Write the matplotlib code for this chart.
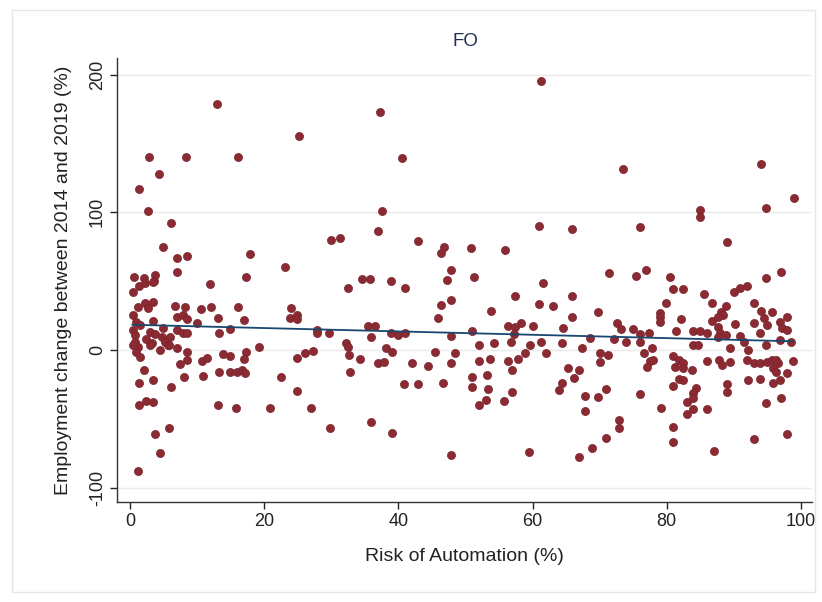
import matplotlib
matplotlib.use("Agg")
import matplotlib.pyplot as plt
from matplotlib.patches import Rectangle

title = "FO"
x_label = "Risk of Automation (%)"
y_label = "Employment change between 2014 and 2019 (%)"
x_ticks = [0, 20, 40, 60, 80, 100]
y_ticks = [-100, 0, 100, 200]

# Scatter points (risk %, employment change %)
risk = [
    61.3, 12.9, 37.3, 25.2, 2.8, 8.3, 16.0, 40.5, 94.1, 73.5, 4.2, 1.3, 99.0, 94.9, 2.7, 37.6,
    85.0, 85.0, 6.0, 60.9, 76.0, 65.9, 37.0, 30.0, 31.2, 42.9, 89.0, 4.85, 46.8, 55.9, 50.8, 46.3,
    6.9, 8.5, 17.9, 23.0, 47.8, 6.9, 71.4, 75.5, 76.9, 80.5, 94.9, 97.0, 0.6, 2.1, 3.7, 3.5,
    17.2, 47.3, 51.3, 34.6, 35.7, 38.9, 11.9, 61.6, 32.4, 41.0, 81.0, 82.5, 90.0, 91.0, 92.0,
    0.4, 1.3, 2.2, 3.4, 1.2, 2.2, 2.7, 3.4, 6.6, 8.2, 10.5, 12.1, 0.4, 6.9, 7.9, 8.5, 9.9, 13.0,
    3.4, 0.9, 1.4, 0.4, 0.7, 4.9, 6.9, 7.9, 8.5, 13.2, 14.9, 2.9, 3.7, 2.4, 3.2, 4.7, 5.9, 5.1,
    5.6, 0.7, 1.2, 0.4, 0.9, 2.9, 4.4, 5.7, 6.9, 1.4, 8.5, 8.5, 7.4, 10.7, 11.4, 13.8, 14.9,
    2.1, 1.3, 3.4, 6.0, 8.0, 10.9, 13.2, 14.9, 1.3, 2.4, 3.4, 13.0, 5.8, 3.7, 4.4, 1.1, 15.7,
    16.1, 24.0, 24.9, 23.8, 24.9, 17.0, 27.9, 27.9, 29.6, 32.2, 32.4, 32.6, 19.2, 17.2, 17.0,
    24.9, 26.0, 27.3, 15.9, 16.6, 17.1, 22.4, 32.8, 24.9, 20.9, 26.9, 29.8,
    46.3, 47.8, 45.9, 35.4, 36.5, 35.9, 38.9, 40.0, 40.9, 47.8, 50.9, 38.2, 39.1, 45.4, 48.4,
    34.2, 37.0, 37.9, 42.0, 44.4, 47.9, 51.0, 50.9, 40.8, 42.9, 46.6, 35.9, 39.0, 47.9,
    57.4, 53.8, 60.9, 63.0, 65.9, 65.9, 56.4, 57.4, 58.3, 60.0, 57.3, 56.8, 64.5, 52.0, 54.3,
    59.6, 61.2, 64.4, 68.6, 67.4, 58.9, 62.0, 52.0, 53.7, 56.3, 57.8, 56.9, 65.3, 66.9, 53.2,
    66.2, 64.4, 64.0, 53.4, 56.9, 52.0, 53.0, 55.8, 67.9, 67.9, 59.5, 67.0, 68.8,
    85.6, 79.9, 86.8, 69.7, 79.0, 79.0, 79.0, 82.2, 86.8, 72.6, 73.2, 75.0, 76.0, 77.4, 81.4,
    83.9, 85.0, 86.1, 72.1, 74.0, 76.0, 83.9, 84.7, 77.9, 70.0, 71.3, 70.0, 76.7, 80.9, 81.9,
    82.4, 81.3, 82.5, 83.8, 77.5, 78.0, 77.1, 86.1, 81.8, 82.4, 80.9, 70.9, 84.4, 84.0, 83.9,
    69.7, 76.0, 83.0, 79.1, 84.0, 83.0, 86.1, 72.9, 72.9, 80.9, 70.9, 80.9, 87.1,
    88.9, 93.1, 88.1, 88.4, 87.6, 94.1, 95.7, 97.9, 94.5, 95.0, 93.1, 90.2, 96.9, 97.2, 97.9,
    87.7, 88.0, 88.9, 87.7, 93.9, 91.0, 91.5, 96.9, 98.6, 94.9, 89.4, 92.1, 87.8, 88.3, 89.4,
    92.0, 93.0, 94.0, 95.0, 95.7, 96.4, 96.7, 98.9, 95.9, 96.4, 97.9, 92.2, 93.9, 95.9, 96.9,
    89.0, 89.0, 97.1, 94.9, 93.1, 97.9,
]
change = [
    195.6, 178.4, 172.6, 155.4, 140.4, 140.4, 140.4, 139.7, 135.0, 131.5, 127.8, 117.0, 110.0, 103.3, 101.2, 101.2,
    101.7, 96.8, 92.0, 90.0, 89.6, 87.6, 86.4, 80.0, 81.6, 79.2, 78.7, 75.0, 75.0, 72.6, 73.8, 70.2,
    67.0, 68.3, 69.5, 60.5, 58.1, 56.6, 55.7, 53.7, 58.1, 53.3, 52.0, 56.9, 53.3, 52.0, 54.5, 50.3,
    53.3, 50.8, 53.3, 51.3, 51.3, 50.3, 47.7, 48.9, 44.8, 44.8, 44.0, 44.0, 42.4, 44.8, 46.5,
    42.4, 46.5, 48.7, 49.4, 31.4, 33.9, 30.3, 35.1, 32.0, 31.4, 29.6, 31.4, 25.4, 24.2, 25.4, 22.3, 19.8, 23.0,
    21.3, 20.6, 18.2, 14.5, 10.9, 15.8, 14.5, 12.1, 12.6, 12.1, 15.0, 13.3, 11.3, 7.6, 4.9, 9.7, 9.2, 6.0,
    3.6, 6.0, 2.4, 3.6, -1.2, 3.6, 0.0, 3.6, 1.2, -4.9, -1.2, -7.3, -10.2, -7.7, -6.0, -2.9, -4.4,
    -14.5, -24.2, -21.8, -26.6, -19.4, -18.6, -15.7, -15.7, -40.0, -36.8, -37.8, -40.0, -56.9, -61.3, -75.0, -87.9, -41.9,
    31.4, 30.3, 25.4, 23.0, 22.3, 21.8, 14.5, 12.1, 12.6, 5.3, 2.0, -3.6, 2.4, -1.2, -6.5,
    -5.6, -2.4, -0.7, -15.7, -14.5, -16.9, -19.4, -16.0, -29.8, -41.9, -41.9, -56.9,
    32.7, 36.3, 23.0, 17.4, 17.4, 9.2, 12.1, 10.9, 12.1, 10.2, 14.0, 1.2, -1.2, -1.2, -2.4,
    -6.8, -9.7, -8.9, -9.2, -11.6, -9.2, -19.4, -26.6, -24.9, -24.9, -23.7, -52.5, -60.3, -76.3,
    39.2, 28.5, 33.2, 32.0, 39.2, 24.2, 17.4, 16.5, 19.8, 17.4, 11.6, 6.0, 15.8, 3.6, 4.9,
    3.6, 6.0, 4.9, 8.5, 1.2, -2.4, -2.4, -7.7, -6.8, -8.0, -6.8, -14.5, -12.8, -14.5, -18.2,
    -20.6, -23.7, -29.0, -28.3, -30.7, -40.0, -36.3, -37.0, -33.2, -44.3, -74.3, -77.5, -71.4,
    40.7, 34.4, 33.9, 27.4, 27.1, 23.7, 20.6, 22.5, 21.3, 19.4, 15.0, 15.0, 11.6, 12.6, 13.8,
    13.8, 13.8, 12.1, 7.8, 5.6, 5.6, 3.6, 3.6, 1.2, -1.9, -3.6, -8.5, -1.9, -4.4, -7.3,
    -9.2, -12.6, -13.3, -14.5, -8.0, -7.3, -12.1, -8.0, -21.3, -21.8, -26.1, -28.3, -27.8, -31.4, -35.1,
    -33.9, -32.0, -38.0, -41.9, -42.8, -46.7, -43.1, -50.8, -56.9, -55.7, -63.7, -67.0, -73.1,
    32.0, 34.4, 27.8, 25.4, 23.7, 28.5, 27.8, 24.2, 23.0, 18.2, 19.8, 18.6, 20.6, 15.8, 14.5,
    16.9, 12.1, 10.9, 9.7, 12.6, 10.2, 6.0, 7.3, 5.6, 3.6, 1.2, 0.0, -7.3, -10.9, -8.5,
    -7.3, -9.7, -9.7, -8.5, -7.3, -7.3, -9.7, -8.0, -13.3, -15.7, -16.9, -21.8, -21.3, -24.2, -21.8,
    -24.7, -30.7, -35.1, -38.7, -64.9, -61.2,
]

# Fitted line
fit_x = [0.3, 98.8]
fit_y = [18.3, 6.3]

plt.rcParams['font.family'] = ['Liberation Sans', 'DejaVu Sans']

fig = plt.figure(figsize=(8.22, 6.02), dpi=100)
fig.patch.set_facecolor('white')
fig.add_artist(Rectangle((12/822, 10/602), 803/822, 582/602, transform=fig.transFigure,
                         fill=False, edgecolor='#e6e6e6', linewidth=1))

ax = fig.add_axes([117/822, 1 - 502/602, (812 - 117)/822, (502 - 58)/602])
ax.set_facecolor('white')

for yv in y_ticks:
    ax.axhline(yv, color='#eaeaea', linewidth=1.0, zorder=0)

ax.scatter(risk, change, s=34, color='#8b2a30', edgecolors='#7a2430', linewidths=0.5, zorder=2)
ax.plot(fit_x, fit_y, color='#1a476f', linewidth=1.3, zorder=3)

ax.set_xlim(-2.0, 101.7)
ax.set_ylim(-110.4, 212.0)
ax.set_xticks(x_ticks)
ax.set_yticks(y_ticks)
ax.set_yticklabels([str(v) for v in y_ticks], rotation=90, va='center')
ax.tick_params(axis='both', labelsize=13, colors='#222222', length=5, width=1, direction='out')
ax.tick_params(axis='y', pad=3)
ax.tick_params(axis='x', pad=3)

for s in ['top', 'right']:
    ax.spines[s].set_visible(False)
for s in ['left', 'bottom']:
    ax.spines[s].set_color('#333333')
    ax.spines[s].set_linewidth(1.0)

ax.set_xlabel(x_label, fontsize=14, color='#222222', labelpad=13)
ax.set_ylabel(y_label, fontsize=14, color='#222222', labelpad=12)
fig.text(465/822, 1 - 42/602, title, ha='center', va='center', fontsize=13.5, color='#1e3250')

fig.savefig('out.png', dpi=100, facecolor='white')
